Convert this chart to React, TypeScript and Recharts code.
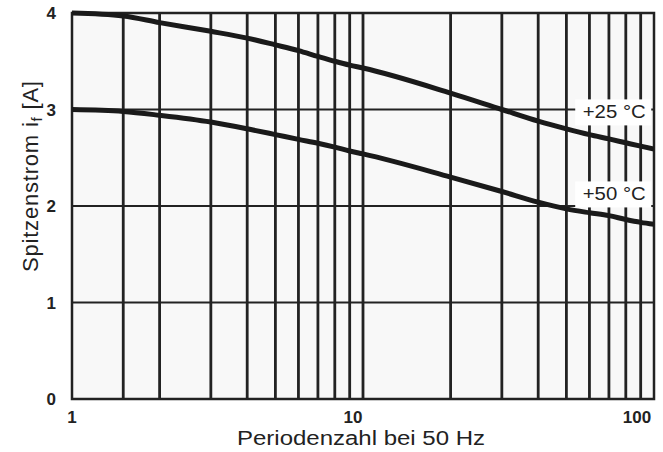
import { LineChart, Line, XAxis, YAxis, ReferenceLine, ReferenceArea, ReferenceDot } from "recharts";

// Periodenzahl (x) and peak current for both temperatures
const perioden = [1, 1.5, 2, 3, 4, 5, 6, 7, 8, 9, 10, 20, 30, 40, 50, 60, 70, 80, 90, 100];
const strom25 = [4.0, 3.97, 3.9, 3.81, 3.74, 3.67, 3.61, 3.55, 3.5, 3.46, 3.43, 3.17, 3.0, 2.88, 2.8, 2.74, 2.695, 2.655, 2.62, 2.59];
const strom50 = [3.0, 2.98, 2.94, 2.87, 2.8, 2.74, 2.69, 2.65, 2.61, 2.57, 2.54, 2.3, 2.15, 2.04, 1.97, 1.93, 1.9, 1.86, 1.83, 1.81];

const xTicks = [1, 10, 100];
const yTicks = [0, 1, 2, 3, 4];
const gridX = [1.5, 2, 3, 4, 5, 6, 7, 8, 9, 10, 20, 30, 40, 50, 60, 70, 80, 90];
const gridY = [1, 2, 3];

const labels = [
  { x: 73, y: 2.97, text: "+25 °C" },
  { x: 73, y: 2.12, text: "+50 °C" },
];

const data = perioden.map((p, i) => ({ p, t25: strom25[i], t50: strom50[i] }));

const font = "'Liberation Sans', Arial, sans-serif";
const ink = "#222";

const XTick = (props: any) => {
  const { x, y, payload } = props;
  const v = payload.value;
  const dx = v === 10 ? -10 : v === 100 ? -14 : 0;
  return (
    <text x={x + dx} y={y + 16} textAnchor="middle" fontFamily={font} fontSize={17} fontWeight="bold" fill={ink}>
      {v}
    </text>
  );
};

const YTick = (props: any) => {
  const { x, y, payload } = props;
  return (
    <text x={x} y={y + 6} textAnchor="end" fontFamily={font} fontSize={17} fontWeight="bold" fill={ink}>
      {payload.value}
    </text>
  );
};

const TempLabel = (text: string) => (props: any) => {
  const { viewBox } = props;
  const cx = viewBox.x;
  const cy = viewBox.y;
  return (
    <g>
      <rect x={cx - 39} y={cy - 13} width={76} height={26} fill="#fff" />
      <text x={cx} y={cy + 6} textAnchor="middle" fontFamily={font} fontSize={18} fill={ink} textLength={63} lengthAdjust="spacingAndGlyphs">
        {text}
      </text>
    </g>
  );
};

export default function App() {
  return (
    <div style={{ position: "absolute", left: 0, top: 0, background: "#fff" }}>
      <LineChart width={663} height={452} data={data} margin={{ top: 13, right: 9, bottom: 0, left: 0 }}>
        <XAxis
          dataKey="p"
          type="number"
          scale="log"
          domain={[1, 100]}
          ticks={xTicks}
          allowDataOverflow
          axisLine={false}
          tickLine={false}
          height={53}
          tick={<XTick />}
          label={() => (
            <text x={361} y={445} textAnchor="middle" fontFamily={font} fontSize={20} fill={ink} textLength={248} lengthAdjust="spacingAndGlyphs">
              Periodenzahl bei 50 Hz
            </text>
          )}
        />
        <YAxis
          type="number"
          domain={[0, 4]}
          ticks={yTicks}
          axisLine={false}
          tickLine={false}
          width={72}
          tickMargin={10}
          tick={<YTick />}
          label={() => (
            <text x={-196} y={38} transform="rotate(-90 38 38)" fontFamily={font} fontSize={22} letterSpacing={0.8} fill={ink}>
              <tspan>Spitzenstrom i</tspan>
              <tspan fontSize={15} dy={4}>f</tspan>
              <tspan dy={-4}>{"  [A]"}</tspan>
            </text>
          )}
        />
        <ReferenceArea x1={1} x2={100} y1={0} y2={4} fill="#f8f8f8" fillOpacity={1} stroke={ink} strokeWidth={2.5} />
        {gridY.map((v) => (
          <ReferenceLine key={`h${v}`} y={v} stroke={ink} strokeWidth={2} />
        ))}
        {gridX.map((v) => (
          <ReferenceLine key={`v${v}`} x={v} stroke={ink} strokeWidth={2.8} />
        ))}
        {labels.map((l) => (
          <ReferenceDot key={l.text} x={l.x} y={l.y} r={0} stroke="none" label={TempLabel(l.text)} />
        ))}
        <Line dataKey="t25" type="monotone" stroke="#1a1a1a" strokeWidth={5} dot={false} isAnimationActive={false} />
        <Line dataKey="t50" type="monotone" stroke="#1a1a1a" strokeWidth={5} dot={false} isAnimationActive={false} />
      </LineChart>
    </div>
  );
}
